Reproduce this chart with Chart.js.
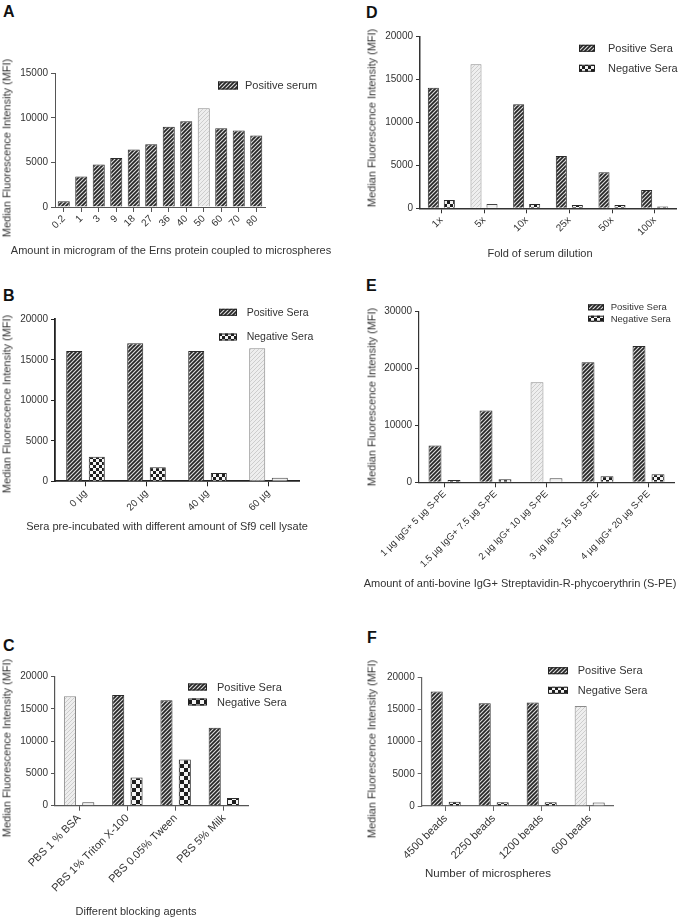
<!DOCTYPE html>
<html><head><meta charset="utf-8">
<script src="https://cdn.jsdelivr.net/npm/chart.js@4.4.1/dist/chart.umd.min.js"></script>
<style>
html,body{margin:0;padding:0;background:#fff;}
body{width:679px;height:918px;position:relative;overflow:hidden;font-family:"Liberation Sans",Arial,sans-serif;color:#333;}
canvas{position:absolute;left:0;top:0;}
.t{position:absolute;white-space:nowrap;color:#333;line-height:1;}
.yt{transform:translate(-50%,-50%) rotate(-90deg);}
.xt{transform:translate(-50%,-50%);}
.lbl{position:absolute;font-weight:bold;font-size:16px;color:#111;line-height:1;}
</style></head><body>
<div class="lbl" style="left:3px;top:4px">A</div>
<div class="lbl" style="left:3px;top:288px">B</div>
<div class="lbl" style="left:3px;top:638px">C</div>
<div class="lbl" style="left:366px;top:5px">D</div>
<div class="lbl" style="left:366px;top:278px">E</div>
<div class="lbl" style="left:367px;top:630px">F</div>
<script>
// ---------------- DATA ----------------
const seriesNames = ['Positive Sera', 'Negative Sera'];
const aSeriesName = 'Positive serum';

const aCategories = ['0.2','1','3','9','18','27','36','40','50','60','70','80'];
const aPositive = [640, 3410, 4760, 5510, 6440, 7040, 8990, 9630, 11090, 8840, 8580, 8020];
const aYTicks = [0, 5000, 10000, 15000];

const bCategories = ['0 µg','20 µg','40 µg','60 µg'];
const bPositive = [16090, 17040, 16090, 16420];
const bNegative = [3045, 1730, 1030, 450];
const bYTicks = [0, 5000, 10000, 15000, 20000];

const cCategories = ['PBS 1 % BSA','PBS 1% Triton X-100','PBS 0.05% Tween','PBS 5% Milk'];
const cPositive = [16980, 17180, 16360, 12090];
const cNegative = [520, 4390, 7180, 1190];
const cYTicks = [0, 5000, 10000, 15000, 20000];

const dCategories = ['1x','5x','10x','25x','50x','100x'];
const dPositive = [14060, 16780, 12120, 6100, 4190, 2130];
const dNegative = [970, 500, 500, 380, 380, 200];
const dYTicks = [0, 5000, 10000, 15000, 20000];

const eCategories = ['1 µg IgG+ 5 µg S-PE','1.5 µg IgG+ 7.5 µg S-PE','2 µg IgG+ 10 µg S-PE','3 µg IgG+ 15 µg S-PE','4 µg IgG+ 20 µg S-PE'];
const ePositive = [6490, 12630, 17600, 21100, 23970];
const eNegative = [400, 550, 700, 1050, 1400];
const eYTicks = [0, 10000, 20000, 30000];

const fCategories = ['4500 beads','2250 beads','1200 beads','600 beads'];
const fPositive = [17800, 15950, 16100, 15530];
const fNegative = [670, 600, 600, 550];
const fYTicks = [0, 5000, 10000, 15000, 20000];

const yTitle = 'Median Fluorescence Intensity (MFI)';
const xTitles = {
  A: 'Amount in microgram of the Erns protein coupled to microspheres',
  B: 'Sera pre-incubated with different amount of Sf9 cell lysate',
  C: 'Different blocking agents',
  D: 'Fold of serum dilution',
  E: 'Amount of anti-bovine IgG+ Streptavidin-R-phycoerythrin (S-PE)',
  F: 'Number of microspheres'
};

// ---------------- STYLE ----------------
const FAM = '"Liberation Sans", Arial, sans-serif';
function hatch(bg, fg, s, lw){
  const c = document.createElement('canvas'); c.width = c.height = s;
  const x = c.getContext('2d');
  x.fillStyle = bg; x.fillRect(0,0,s,s);
  x.strokeStyle = fg; x.lineWidth = lw; x.beginPath();
  x.moveTo(0,s); x.lineTo(s,0);
  x.moveTo(-s/2,s/2); x.lineTo(s/2,-s/2);
  x.moveTo(s/2,s*1.5); x.lineTo(s*1.5,s/2);
  x.stroke();
  return x.createPattern(c,'repeat');
}
function checker(a, b, n){
  const c = document.createElement('canvas'); c.width = c.height = 2*n;
  const x = c.getContext('2d');
  x.fillStyle = a; x.fillRect(0,0,2*n,2*n);
  x.fillStyle = b; x.fillRect(0,0,n,n); x.fillRect(n,n,n,n);
  return x.createPattern(c,'repeat');
}
const PAT = {
  pos: hatch('#dcdcdc', '#262626', 4, 1.7),
  hi: hatch('#eeeeee', '#cdcdcd', 4, 1),
  neg: checker('#f4f4f4', '#1e1e1e', 3),
  negBig: checker('#f4f4f4', '#1e1e1e', 4),
  negHi: '#f1f1f1'
};

const boxLegend = {
  id: 'boxLegend',
  afterDraw(chart, args, opts){
    if (!opts || !opts.items) return;
    const ctx = chart.ctx;
    opts.items.forEach((it, i) => {
      const ds = chart.data.datasets[i];
      ctx.save();
      ctx.fillStyle = i === 0 ? PAT.pos : (opts.big ? PAT.negBig : PAT.neg);
      ctx.fillRect(it.x, it.y - it.h/2, it.w, it.h);
      ctx.strokeStyle = '#222'; ctx.lineWidth = 1;
      ctx.strokeRect(it.x + 0.5, it.y - it.h/2 + 0.5, it.w - 1, it.h - 1);
      ctx.fillStyle = '#333';
      ctx.font = opts.size + 'px ' + FAM;
      ctx.textBaseline = 'middle';
      ctx.fillText(ds.label, it.tx, it.y + 0.5);
      ctx.restore();
    });
  }
};
Chart.register(boxLegend);

const YW = 50;
const panels = [
  {id:'A', cats:aCategories, series:[[aSeriesName, aPositive]], yt:aYTicks, hi:8,
   l:55, t:73.3, r:265, b:207, cp:0.8, bp:0.86, xf:10, axis:'#555', aw:1,
   leg:{size:11, items:[{x:218,w:20,y:85.5,h:8,tx:245}]},
   ytp:[7,148,11], xtp:[171,250,11]},
  {id:'B', cats:bCategories, series:[[seriesNames[0], bPositive],[seriesNames[1], bNegative]], yt:bYTicks, hi:3,
   l:55, t:319.3, r:299, b:481.3, cp:0.74, bp:0.71, xf:10, axis:'#222', aw:1.8,
   leg:{size:10.5, items:[{x:219,w:18,y:312.3,h:7,tx:246.7},{x:219,w:18,y:337,h:7,tx:246.7}]},
   ytp:[7,404,11], xtp:[167,526,11]},
  {id:'C', cats:cCategories, series:[[seriesNames[0], cPositive],[seriesNames[1], cNegative]], yt:cYTicks, hi:0,
   l:55, t:676.7, r:248, b:805.7, cp:0.76, bp:0.66, xf:11, axis:'#555', aw:1.2, big:true,
   leg:{size:11, items:[{x:188,w:19,y:687,h:7,tx:217},{x:188,w:19,y:702,h:7,tx:217}]},
   ytp:[7,748,11], xtp:[136,911,11]},
  {id:'D', cats:dCategories, series:[[seriesNames[0], dPositive],[seriesNames[1], dNegative]], yt:dYTicks, hi:1,
   l:420, t:36.7, r:676, b:208.3, cp:0.75, bp:0.69, xf:10, axis:'#333', aw:1.5,
   leg:{size:11, items:[{x:579,w:16,y:48.3,h:7,tx:608},{x:579,w:16,y:68.3,h:7,tx:608}]},
   ytp:[372,118,11], xtp:[540,253,11]},
  {id:'E', cats:eCategories, series:[[seriesNames[0], ePositive],[seriesNames[1], eNegative]], yt:eYTicks, hi:2,
   l:419, t:311.7, r:674, b:482.3, cp:0.745, bp:0.68, xf:9.5, axis:'#333', aw:1.2,
   leg:{size:9.5, items:[{x:588,w:16,y:307.3,h:6,tx:610.7},{x:588,w:16,y:318.7,h:6,tx:610.7}]},
   ytp:[372,397,11], xtp:[520,583,11]},
  {id:'F', cats:fCategories, series:[[seriesNames[0], fPositive],[seriesNames[1], fNegative]], yt:fYTicks, hi:3,
   l:421.7, t:677.3, r:613.7, b:806, cp:0.75, bp:0.67, xf:11, axis:'#666', aw:1.2,
   leg:{size:11, items:[{x:548,w:20,y:670.7,h:7,tx:577.7},{x:548,w:20,y:690.3,h:7,tx:577.7}]},
   ytp:[372,749,11], xtp:[488,874,11.5]}
];

function addText(cls, txt, x, y, size){
  const d = document.createElement('div');
  d.className = 't ' + cls; d.textContent = txt;
  d.style.left = x + 'px'; d.style.top = y + 'px'; d.style.fontSize = size + 'px';
  document.body.appendChild(d);
}

panels.forEach(p => {
  const cv = document.createElement('canvas');
  cv.width = 679; cv.height = 918;
  document.body.appendChild(cv);
  const XH = Math.min(130, 918 - p.b);
  const datasets = p.series.map((s, si) => ({
    label: s[0], data: s[1],
    backgroundColor: p.cats.map((_, i) => i === p.hi ? (si === 0 ? PAT.hi : PAT.negHi) : (si === 0 ? PAT.pos : (p.big ? PAT.negBig : PAT.neg))),
    borderColor: p.cats.map((_, i) => i === p.hi ? (si === 0 ? '#8a8a8a' : '#444') : '#2b2b2b'),
    borderWidth: 1,
    categoryPercentage: p.cp, barPercentage: p.bp
  }));
  const yt = p.yt;
  new Chart(cv, {
    type: 'bar',
    data: { labels: p.cats, datasets },
    options: {
      responsive: false, animation: false, devicePixelRatio: 1,
      layout: { padding: { left: p.l - YW, top: p.t, right: 679 - p.r, bottom: Math.max(0, 918 - p.b - XH) } },
      plugins: { legend: { display: false }, tooltip: { enabled: false },
        boxLegend: { size: p.leg.size, items: p.leg.items, big: !!p.big } },
      scales: {
        x: {
          type: 'category', offset: true,
          grid: { offset: false, drawOnChartArea: false, drawTicks: true, tickLength: 5, color: p.axis, lineWidth: 1 },
          border: { color: p.axis, width: p.aw },
          ticks: { autoSkip: false, minRotation: 45, maxRotation: 45, color: '#333', padding: 1,
                   font: { family: FAM, size: p.xf } },
          afterFit(s){ s.height = XH; }
        },
        y: {
          min: yt[0], max: yt[yt.length - 1],
          ticks: { stepSize: yt[1] - yt[0], color: '#333', padding: 3, font: { family: FAM, size: 10 },
                   callback: v => String(v) },
          grid: { drawOnChartArea: false, drawTicks: true, tickLength: 4, color: p.axis, lineWidth: 1 },
          border: { color: p.axis, width: p.aw },
          afterFit(s){ s.width = YW; }
        }
      }
    }
  });
  addText('yt', yTitle, p.ytp[0], p.ytp[1], p.ytp[2]);
  addText('xt', xTitles[p.id], p.xtp[0], p.xtp[1], p.xtp[2]);
});
</script>
</body></html>
